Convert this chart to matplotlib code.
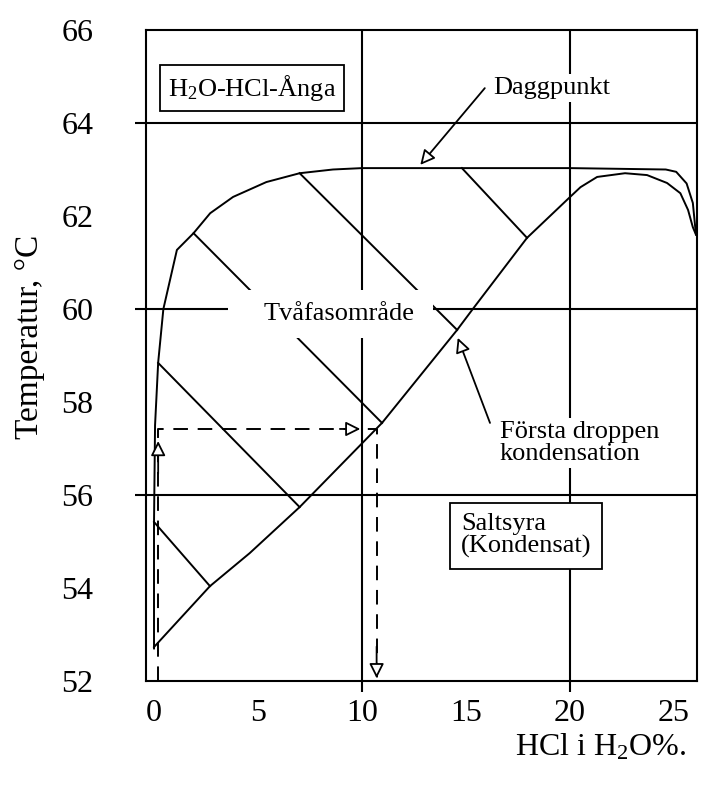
import numpy as np
import matplotlib.pyplot as plt
from matplotlib.patches import Rectangle

plt.rcParams['font.family'] = ['Liberation Serif', 'DejaVu Serif']
plt.rcParams['mathtext.fontset'] = 'custom'
plt.rcParams['mathtext.rm'] = 'Liberation Serif'
plt.rcParams['mathtext.it'] = 'Liberation Serif:italic'

# dew point curve (Daggpunkt)
dew_x = [0.0, 0.0, 0.05, 0.2, 0.45, 1.1, 1.9, 2.7, 3.8, 5.4, 7.0, 8.6, 10.0,
         14.0, 20.0, 24.6, 25.1, 25.6, 25.9, 26.05]
dew_t = [52.7, 55.4, 57.5, 58.85, 60.0, 61.27, 61.63, 62.06, 62.41, 62.73,
         62.92, 63.0, 63.03, 63.03, 63.03, 63.0, 62.95, 62.7, 62.28, 61.6]

# condensate curve (first drop)
liq_x = [0.0, 2.69, 4.6, 7.0, 10.96, 14.57, 15.29, 17.93, 20.0, 20.5, 21.3,
         22.64, 23.7, 24.66, 25.3, 25.67, 25.9, 26.05]
liq_t = [52.73, 54.04, 54.75, 55.74, 57.55, 59.55, 59.98, 61.53, 62.41, 62.62,
         62.84, 62.92, 62.88, 62.71, 62.49, 62.13, 61.76, 61.6]

# tie lines: vapour end -> liquid end
tie_v_x = [0.0, 0.2, 1.9, 7.0, 14.8]
tie_v_t = [55.42, 58.84, 61.63, 62.92, 63.03]
tie_l_x = [2.69, 7.0, 10.96, 14.57, 17.93]
tie_l_t = [54.04, 55.74, 57.55, 59.55, 61.53]

# dashed construction path
path_x = [0.2, 0.2, 10.7, 10.7]
path_t = [52.0, 57.42, 57.42, 52.0]

xticks = [0, 5, 10, 15, 20, 25]
yticks = [52, 54, 56, 58, 60, 62, 64, 66]
grid_x = [10, 20]
grid_t = [56, 60, 64]

fig = plt.figure(figsize=(7.07, 7.85), dpi=100)
ax = fig.add_axes([146/707, 1-681/785, 551/707, 651/785])
ax.set_xlim(-0.385, 26.1)
ax.set_ylim(52, 66)

for s in ax.spines.values():
    s.set_linewidth(1.5)

ax.xaxis.remove_overlapping_locs = False
ax.yaxis.remove_overlapping_locs = False
ax.set_xticks(xticks)
ax.set_yticks(yticks)
ax.set_xticks(grid_x, minor=True)
ax.set_yticks(grid_t, minor=True)
ax.tick_params(which='major', length=0, labelsize=23)
ax.tick_params(axis='y', which='major', pad=38)
ax.tick_params(axis='x', which='major', pad=13)
ax.tick_params(which='minor', length=8, width=1.5, direction='out')
ax.grid(which='minor', color='black', lw=1.5)

lw = 1.4
ax.plot(dew_x, dew_t, color='black', lw=lw)
ax.plot(liq_x, liq_t, color='black', lw=lw)
for i in range(len(tie_v_x)):
    ax.plot([tie_v_x[i], tie_l_x[i]], [tie_v_t[i], tie_l_t[i]], color='black', lw=lw)

ax.plot(path_x, path_t, color='black', lw=lw, linestyle=(0, (7.5, 5)))

head = dict(arrowstyle='-|>', fc='white', ec='black', lw=1.3, mutation_scale=22)
ax.annotate('', xy=(path_x[1], 57.22), xytext=(path_x[1], 56.4), arrowprops=head)
ax.annotate('', xy=(10.05, path_t[1]), xytext=(8.8, path_t[1]), arrowprops=head)
ax.annotate('', xy=(path_x[3], 52.0), xytext=(path_x[3], 52.8), arrowprops=head)

# labels inside the chart
ax.text(4.71, 64.75, 'H$_2$O-HCl-Ånga', fontsize=19, ha='center', va='center', zorder=6,
        bbox=dict(boxstyle='square,pad=0.3', fc='white', ec='black', lw=1.3))

ax.text(16.3, 64.75, 'Daggpunkt', fontsize=19, ha='left', va='center', zorder=5,
        bbox=dict(boxstyle='square,pad=0.1', fc='white', ec='none'))
ax.annotate('', xy=(12.8, 63.1), xytext=(15.9, 64.75),
            arrowprops=dict(arrowstyle='-|>', fc='white', ec='black', lw=1.3,
                            mutation_scale=22, shrinkA=0, shrinkB=0))

ax.add_patch(Rectangle((3.56, 59.38), 9.85, 1.03, fc='white', ec='none', zorder=4))
ax.text(8.9, 59.89, 'Tvåfasområde', fontsize=19, ha='center', va='center', zorder=5)

ax.text(16.63, 57.12, 'Första droppen\nkondensation', fontsize=19, ha='left',
        va='center', linespacing=1.0, zorder=5,
        bbox=dict(boxstyle='square,pad=0.1', fc='white', ec='none'))
ax.annotate('', xy=(14.6, 59.38), xytext=(16.15, 57.55),
            arrowprops=dict(arrowstyle='-|>', fc='white', ec='black', lw=1.3,
                            mutation_scale=22, shrinkA=0, shrinkB=0))

ax.text(14.75, 55.12, 'Saltsyra\n(Kondensat)', fontsize=19, ha='left', va='center',
        linespacing=1.0, zorder=6,
        bbox=dict(boxstyle='square,pad=0.4', fc='white', ec='black', lw=1.3))

fig.text(601/707, 1-747/785, 'HCl i H$_2$O%.', fontsize=23, ha='center', va='center')
fig.text(30/707, 1-337/785, 'Temperatur, °C', fontsize=24, rotation=90,
         ha='center', va='center')

fig.savefig('out.png', dpi=100)
